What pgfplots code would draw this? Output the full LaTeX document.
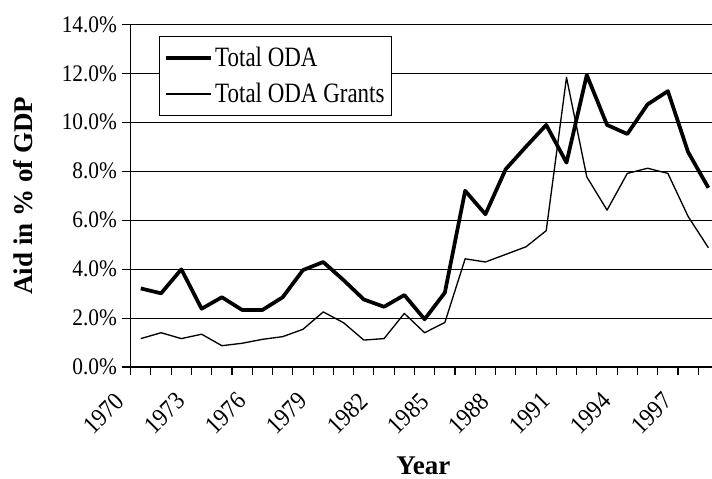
\documentclass[border=0pt]{standalone}
\usepackage{pgfplots}
\pgfplotsset{compat=1.18}
\usepackage{pgfplotstable}
\usepackage{fontspec}
\setmainfont{Liberation Serif}
\newfontfamily\tickfont[FakeStretch=0.9]{Liberation Serif}
\newfontfamily\legfont[FakeStretch=0.82]{Liberation Serif}

\pgfplotstableread{
year oda grants
1970 3.21 1.16
1971 3.01 1.40
1972 3.99 1.16
1973 2.38 1.34
1974 2.85 0.87
1975 2.33 0.97
1976 2.33 1.13
1977 2.85 1.24
1978 3.96 1.54
1979 4.29 2.25
1980 3.55 1.81
1981 2.76 1.10
1982 2.46 1.16
1983 2.94 2.19
1984 1.95 1.40
1985 3.04 1.82
1986 7.20 4.42
1987 6.24 4.29
1988 8.08 4.60
1989 9.00 4.91
1990 9.89 5.57
1991 8.35 11.83
1992 11.93 7.77
1993 9.89 6.41
1994 9.52 7.91
1995 10.73 8.12
1996 11.27 7.91
1997 8.78 6.15
1998 7.32 4.87
}\datatable

\begin{document}
\begin{tikzpicture}
\path[use as bounding box] (0,0) rectangle (534pt,358.5pt);
\clip (0,0) rectangle (534pt,358.5pt);
\begin{axis}[
  at={(98.0pt,83.25pt)}, anchor=south west,
  scale only axis, width=440.9pt, height=257.0pt,
  xmin=1969.5, xmax=1998.5, ymin=0, ymax=14,
  axis x line*=bottom, axis y line*=left,
  axis line style={black, line width=0.9pt},
  xtick={1970,1973,...,1997},
  xticklabels={1970,1973,1976,1979,1982,1985,1988,1991,1994,1997},
  major x tick style={draw=none},
  minor xtick={1969.5,1970.5,...,1998.5},
  minor x tick style={black, line width=0.8pt},
  minor tick length=6pt,
  ytick={0,2,...,14},
  yticklabels={0.0\%,2.0\%,4.0\%,6.0\%,8.0\%,10.0\%,12.0\%,14.0\%},
  major y tick style={black, line width=0.8pt},
  major tick length=6.75pt,
  tick align=outside,
  ymajorgrids, grid style={black, line width=0.8pt},
  xticklabel style={font=\tickfont\fontsize{19pt}{22pt}\selectfont, inner sep=0pt, xshift=-20pt, yshift=-11pt, rotate=45, anchor=north east},
  yticklabel style={font=\tickfont\fontsize{17.8pt}{20pt}\selectfont},
  ylabel={Aid in \% of GDP},
  xlabel={Year},
  every axis y label/.style={at={(axis description cs:-0.183,0.5)}, rotate=90, anchor=center, font=\bfseries\fontsize{20.25pt}{24pt}\selectfont},
  every axis x label/.style={at={(axis description cs:0.498,-0.315)}, anchor=base, font=\bfseries\fontsize{20.25pt}{24pt}\selectfont},
  legend style={at={(0.0487,0.966)}, anchor=north west, draw=black, line width=0.8pt, fill=white,
    font=\legfont\fontsize{21pt}{25pt}\selectfont, row sep=7pt, inner xsep=3pt, inner ysep=6pt},
  legend cell align=left,
  legend image code/.code={\draw[#1] (0pt,0pt) -- (33.75pt,0pt);},
]
\addplot[black, line width=2.8pt, line join=round] table[x=year, y=oda] {\datatable};
\addlegendentry{Total ODA}
\addplot[black, line width=1pt, line join=round] table[x=year, y=grants] {\datatable};
\addlegendentry{Total ODA Grants}
\end{axis}
\end{tikzpicture}
\end{document}
